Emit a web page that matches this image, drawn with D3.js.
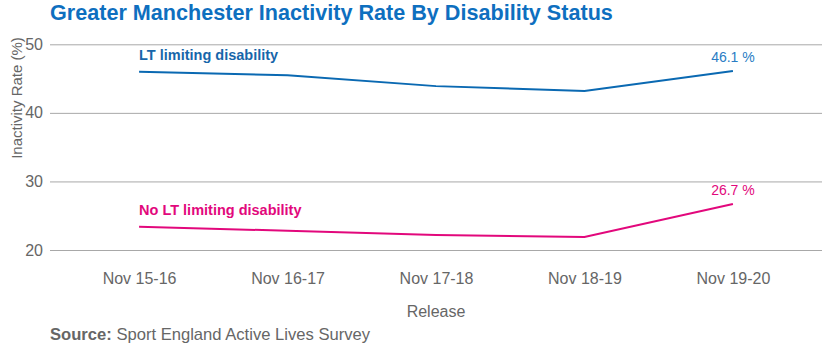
<!DOCTYPE html>
<html>
<head>
<meta charset="utf-8">
<script src="https://cdn.jsdelivr.net/npm/d3@7"></script>
<style>
  body { margin: 0; background: #fff; }
  svg { display: block; font-family: "Liberation Sans", Arial, sans-serif; }
</style>
</head>
<body>
<div id="chart"></div>
<script>
var WIDTH = 829;
var HEIGHT = 350;

// data
var releases = ["Nov 15-16", "Nov 16-17", "Nov 17-18", "Nov 18-19", "Nov 19-20"];
var ltLimiting = [46.0, 45.5, 43.9, 43.2, 46.1];
var noLtLimiting = [23.4, 22.8, 22.2, 21.9, 26.7];
var yTicks = [20, 30, 40, 50];

var series = [
	{ name: "LT limiting disability", values: ltLimiting, color: "#0a69b2", labelColor: "#1766aa", valueColor: "#2a7cc4", labelY: 60 },
	{ name: "No LT limiting disability", values: noLtLimiting, color: "#e2087c", labelColor: "#e2087c", valueColor: "#e2087c", labelY: 215 }
];

var margin = { left: 50, right: 7, top: 44.3, bottom: 100 };

var svg = d3.select("#chart")
	.append("svg")
	.attr("width", WIDTH)
	.attr("height", HEIGHT);

var x = d3.scalePoint()
	.domain(releases)
	.range([margin.left, WIDTH - margin.right])
	.padding(0.6);

var y = d3.scaleLinear()
	.domain([20, 50])
	.range([250, margin.top]);

// title
svg.append("text")
	.attr("x", 50)
	.attr("y", 20)
	.attr("fill", "#0e6fbf")
	.style("font-size", "21.6px")
	.style("font-weight", "bold")
	.text("Greater Manchester Inactivity Rate By Disability Status");

// grid + y axis
var yAxis = svg.append("g")
	.attr("transform", `translate(${margin.left},0)`)
	.call(d3.axisLeft(y).tickValues(yTicks).tickSize(-(WIDTH - margin.left - margin.right)).tickPadding(7));
yAxis.select(".domain").remove();
yAxis.selectAll(".tick line").attr("stroke", "#a8a8a8").attr("stroke-width", 1);
yAxis.selectAll(".tick text")
	.attr("fill", "#666")
	.style("font-size", "16px")
	.style("font-family", "'Liberation Sans', Arial, sans-serif");

// x axis labels
var xAxis = svg.append("g")
	.attr("transform", "translate(0,272)")
	.call(d3.axisBottom(x).tickSize(0).tickPadding(0));
xAxis.select(".domain").remove();
xAxis.selectAll(".tick text")
	.attr("fill", "#666")
	.attr("dy", "0.75em")
	.style("font-size", "16px")
	.style("font-family", "'Liberation Sans', Arial, sans-serif");

// axis titles
svg.append("text")
	.attr("transform", "rotate(-90)")
	.attr("x", -98)
	.attr("y", 22)
	.attr("text-anchor", "middle")
	.attr("fill", "#666")
	.style("font-size", "15px")
	.text("Inactivity Rate (%)");

svg.append("text")
	.attr("x", 436)
	.attr("y", 317)
	.attr("text-anchor", "middle")
	.attr("fill", "#666")
	.style("font-size", "16px")
	.text("Release");

// lines
var line = d3.line()
	.x((d, i) => x(releases[i]))
	.y(d => y(d));

series.forEach(function(s) {
	svg.append("path")
		.datum(s.values)
		.attr("fill", "none")
		.attr("stroke", s.color)
		.attr("stroke-width", 2)
		.attr("d", line);

	svg.append("text")
		.attr("x", x(releases[0]))
		.attr("y", s.labelY)
		.attr("fill", s.labelColor)
		.style("font-size", "14.5px")
		.style("font-weight", "bold")
		.text(s.name);

	var last = s.values.length - 1;
	svg.append("text")
		.attr("x", x(releases[last]))
		.attr("y", y(s.values[last]) - 9)
		.attr("text-anchor", "middle")
		.attr("fill", s.valueColor)
		.style("font-size", "14px")
		.text(s.values[last].toFixed(1) + " %");
});

// source
var source = svg.append("text")
	.attr("x", 50)
	.attr("y", 340)
	.attr("fill", "#666")
	.style("font-size", "16.6px");
source.append("tspan").style("font-weight", "bold").text("Source:");
source.append("tspan").text(" Sport England Active Lives Survey");
</script>
</body>
</html>
